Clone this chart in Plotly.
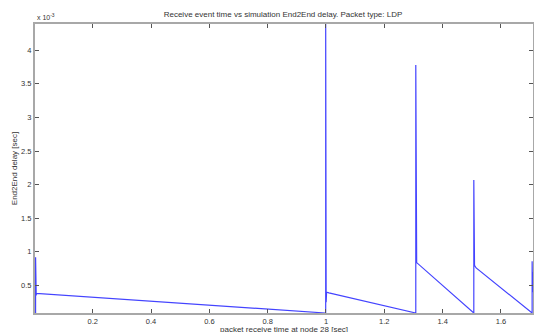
import plotly.graph_objects as go

# packet receive time at node 28 [sec]
recv_time = [
    0.0040, 0.0040, 0.0048, 0.0048, 0.0056, 0.0056, 0.0062, 0.0066,
    0.9990, 0.9990, 0.9998, 0.9998, 1.0006, 1.0006, 1.0014, 1.0014, 1.0020, 1.0100,
    1.3080, 1.3080, 1.3088, 1.3088, 1.3096, 1.3096, 1.3104, 1.3104, 1.3110,
    1.5070, 1.5070, 1.5078, 1.5078, 1.5086, 1.5086, 1.5094, 1.5094, 1.5150,
    1.7070, 1.7070, 1.7078, 1.7078, 1.7086, 1.7086,
]
# End2End delay [x 10^-3 sec]
delay_e3 = [
    0.09, 0.92, 0.15, 0.80, 0.30, 0.55, 0.35, 0.38,
    0.09, 4.39, 0.30, 1.14, 0.25, 0.85, 0.30, 0.55, 0.40, 0.39,
    0.09, 3.78, 0.85, 2.01, 0.90, 1.47, 0.84, 1.40, 0.84,
    0.09, 2.07, 0.30, 1.60, 0.30, 0.84, 0.30, 0.80, 0.76,
    0.09, 0.86, 0.40, 0.76, 0.40, 0.70,
]

x_ticks = [0.2, 0.4, 0.6, 0.8, 1.0, 1.2, 1.4, 1.6]
x_tick_labels = ["0.2", "0.4", "0.6", "0.8", "1", "1.2", "1.4", "1.6"]
y_ticks = [0.5, 1, 1.5, 2, 2.5, 3, 3.5, 4]
y_tick_labels = ["0.5", "1", "1.5", "2", "2.5", "3", "3.5", "4"]

FONT = "Liberation Sans, Arial"

fig = go.Figure()
fig.add_trace(go.Scatter(
    x=recv_time, y=delay_e3, mode="lines",
    line=dict(color="#4444ff", width=1.2),
    showlegend=False,
))

axis_common = dict(
    showgrid=False, zeroline=False, showline=True, mirror="ticks",
    linecolor="#a8a8a8", linewidth=2, ticks="inside", ticklen=4,
    tickcolor="#555555", tickwidth=1, automargin=False,
    tickfont=dict(family=FONT, size=7.5, color="#333333"),
)

fig.update_layout(
    width=534, height=332,
    margin=dict(l=35, r=1, t=24, b=19),
    paper_bgcolor="white", plot_bgcolor="white",
    title=dict(text="Receive event time vs simulation End2End delay. Packet type: LDP",
               x=0.53, xanchor="center", y=0.958, yanchor="middle",
               font=dict(family=FONT, size=8, color="#333333")),
    xaxis=dict(range=[0.002, 1.710], tickvals=x_ticks, ticktext=x_tick_labels,
               **axis_common),
    yaxis=dict(range=[0.09, 4.39], tickvals=y_ticks, ticktext=y_tick_labels,
               title=dict(text="End2End delay [sec]", standoff=2,
                          font=dict(family=FONT, size=8, color="#333333")),
               **axis_common),
    annotations=[
        dict(text="x 10<sup>-3</sup>", xref="paper", yref="paper",
             x=0.0, y=1.0, xanchor="left", yanchor="bottom", showarrow=False,
             yshift=1, font=dict(family=FONT, size=7, color="#333333")),
        dict(text="packet receive time at node 28 [sec]", xref="paper", yref="paper",
             x=0.5, y=0.0, xanchor="center", yanchor="middle", showarrow=False,
             yshift=-16.5, font=dict(family=FONT, size=8, color="#333333")),
    ],
)

fig.write_html("out.html", config={"displayModeBar": False},
               post_script="document.body.style.margin='0';document.body.style.overflow='hidden';")
